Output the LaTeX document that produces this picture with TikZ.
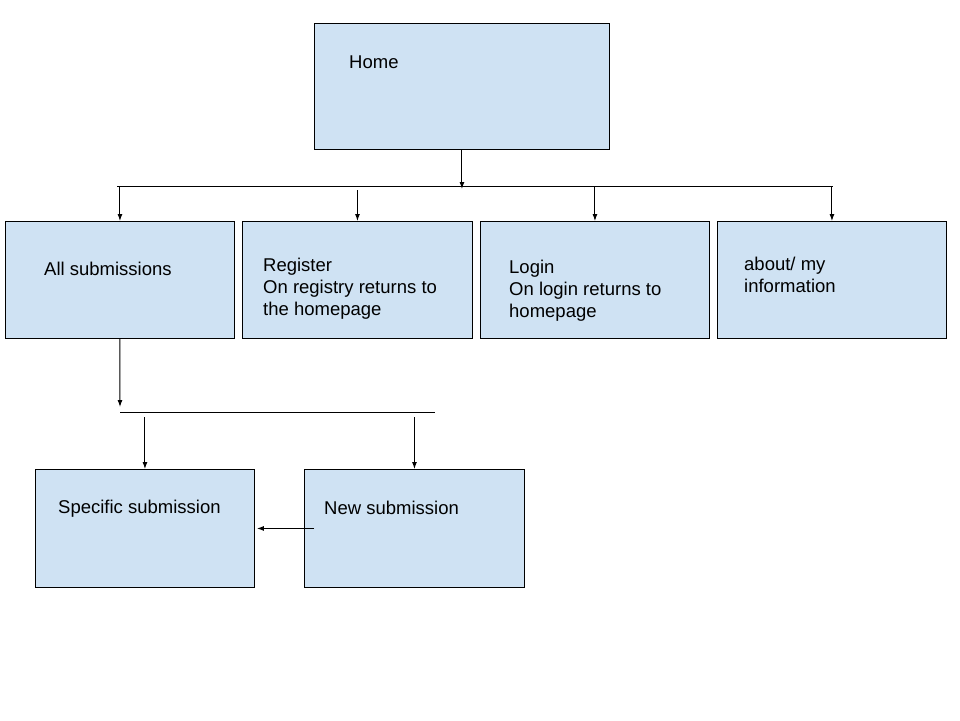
\documentclass[tikz,border=0pt]{standalone}
\usepackage{fontspec}
\setmainfont{Liberation Sans}
\usetikzlibrary{arrows.meta, positioning}
\definecolor{boxblue}{HTML}{CFE2F3}

\begin{document}
\begin{tikzpicture}[
  x=1pt, y=-1pt,
  box/.style={draw, fill=boxblue, line width=0.9pt, anchor=north west, inner sep=0pt},
  txt/.style={anchor=base west, inner sep=0pt, align=left, font=\fontsize{18.5}{22}\selectfont},
  arr/.style={-{Latex[length=7pt,width=5pt]}, line width=1pt},
  bar/.style={line width=1pt}]

  \useasboundingbox[fill=white] (0,0) rectangle (960,720);

  % boxes
  \node[box, minimum width=295pt, minimum height=126pt] (home) at (314,23) {};
  \node[box, minimum width=229pt, minimum height=117pt] (allsub) at (5,221) {};
  \node[box, minimum width=230pt, minimum height=117pt] (reg) at (242,221) {};
  \node[box, minimum width=229pt, minimum height=117pt] (login) at (480,221) {};
  \node[box, minimum width=229pt, minimum height=117pt] (about) at (717,221) {};
  \node[box, minimum width=219pt, minimum height=118pt] (spec) at (35,469) {};
  \node[box, minimum width=220pt, minimum height=118pt] (new) at (304,469) {};

  % texts (base = last line)
  \node[txt] (hometxt) at (349,68) {Home};
  \node[txt] (allsubtxt) at (44,275) {All submissions};
  \node[txt] (regtxt) at (263,315) {Register\\On registry returns to\\the homepage};
  \node[txt] (logintxt) at (509,317) {Login\\On login returns to\\homepage};
  \node[txt] (abouttxt) at (744,292) {about/ my\\information};
  \node[txt] (spectxt) at (58,513) {Specific submission};
  \node[txt] (newtxt) at (324,514) {New submission};

  % first level
  \coordinate (barL) at (117,186);
  \coordinate (barR) at (833,186);
  \draw[bar] (barL) -- (barR);
  \draw[arr] (home.south) -- (home.south |- 0,189);
  \draw[arr] (allsub.north |- barL) -- (allsub.north);
  \draw[arr] ([yshift=-4pt]reg.north |- barL) -- (reg.north);
  \draw[arr] (login.north |- barL) -- (login.north);
  \draw[arr] (about.north |- barL) -- (about.north);

  % second level
  \coordinate (subL) at (120,412);
  \coordinate (subR) at (435,412);
  \draw[bar] (subL) -- (subR);
  \draw[arr] (allsub.south) -- ([yshift=5pt]subL);
  \draw[arr] ([yshift=-5pt]spec.north |- subL) -- (spec.north);
  \draw[arr] ([yshift=-5pt]new.north |- subL) -- (new.north);
  \draw[arr] ([xshift=10pt]new.west) -- ([xshift=2pt]spec.east);
\end{tikzpicture}
\end{document}
